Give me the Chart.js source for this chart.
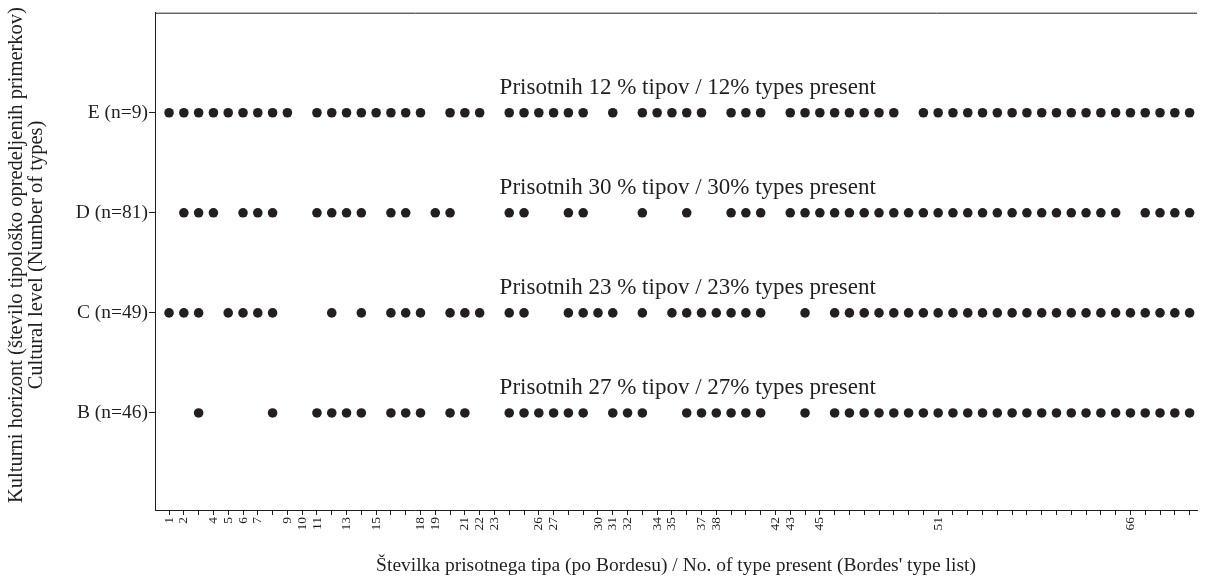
<!DOCTYPE html>
<html>
<head>
<meta charset="utf-8">
<script src="https://cdn.jsdelivr.net/npm/chart.js@4.4.1/dist/chart.umd.min.js"></script>
<style>
html, body { margin: 0; padding: 0; background: #fff; }
#wrap { width: 1208px; height: 583px; position: relative; }
</style>
</head>
<body>
<div id="wrap"><canvas id="chart"></canvas></div>
<script>
// Cultural levels, bottom to top
const levels = ['B (n=46)', 'C (n=49)', 'D (n=81)', 'E (n=9)'];

// Percentage of types present, per level
const presentNotes = [
    'Prisotnih 27 % tipov / 27% types present',
    'Prisotnih 23 % tipov / 23% types present',
    'Prisotnih 30 % tipov / 30% types present',
    'Prisotnih 12 % tipov / 12% types present'
];

// Positions of types present in each level
const typesB = [3, 8, 11, 12, 13, 14, 16, 17, 18, 20, 21, 24, 25, 26, 27, 28, 29, 31, 32, 33,
    36, 37, 38, 39, 40, 41, 44, 46, 47, 48, 49, 50, 51, 52, 53, 54, 55, 56, 57, 58, 59, 60,
    61, 62, 63, 64, 65, 66, 67, 68, 69, 70];
const typesC = [1, 2, 3, 5, 6, 7, 8, 12, 14, 16, 17, 18, 20, 21, 22, 24, 25, 28, 29, 30, 31, 33,
    35, 36, 37, 38, 39, 40, 41, 44, 46, 47, 48, 49, 50, 51, 52, 53, 54, 55, 56, 57, 58, 59, 60,
    61, 62, 63, 64, 65, 66, 67, 68, 69, 70];
const typesD = [2, 3, 4, 6, 7, 8, 11, 12, 13, 14, 16, 17, 19, 20, 24, 25, 28, 29, 33, 36, 39, 40, 41,
    43, 44, 45, 46, 47, 48, 49, 50, 51, 52, 53, 54, 55, 56, 57, 58, 59, 60, 61, 62, 63, 64, 65,
    67, 68, 69, 70];
const typesE = [1, 2, 3, 4, 5, 6, 7, 8, 9, 11, 12, 13, 14, 15, 16, 17, 18, 20, 21, 22, 24, 25, 26, 27,
    28, 29, 31, 33, 34, 35, 36, 37, 39, 40, 41, 43, 44, 45, 46, 47, 48, 49, 50, 52, 53, 54, 55, 56,
    57, 58, 59, 60, 61, 62, 63, 64, 65, 66, 67, 68, 69, 70];

// Labelled ticks on the x axis
const labelledPositions = [1, 2, 4, 5, 6, 7, 9, 10, 11, 13, 15, 18, 19, 21, 22, 23, 26, 27, 30, 31,
    32, 34, 35, 37, 38, 42, 43, 45, 53, 66];
const labelledTexts = ['1', '2', '4', '5', '6', '7', '9', '10', '11', '13', '15', '18', '19', '21', '22',
    '23', '26', '27', '30', '31', '32', '34', '35', '37', '38', '42', '43', '45', '51', '66'];
const typeCount = 70;

const yTitleLines = [
    'Kulturni horizont (število tipološko opredeljenih primerkov)',
    'Cultural level (Number of types)'
];
const xTitle = 'Številka prisotnega tipa (po Bordesu) / No. of type present (Bordes\' type list)';

const ink = '#231f20';
const serif = '"Liberation Serif", "DejaVu Serif", serif';

const levelTypes = [typesB, typesC, typesD, typesE];

// Frame top line, level notes and axis titles
const extrasPlugin = {
    id: 'extras',
    afterDraw(chart) {
        const ctx = chart.ctx;
        const area = chart.chartArea;
        const xs = chart.scales.x;
        const ys = chart.scales.y;
        ctx.save();
        ctx.strokeStyle = ink;
        ctx.lineWidth = 1;
        ctx.beginPath();
        ctx.moveTo(area.left, area.top + 0.5);
        ctx.lineTo(area.right, area.top + 0.5);
        ctx.stroke();

        ctx.fillStyle = ink;
        ctx.font = '23px ' + serif;
        ctx.textAlign = 'center';
        ctx.textBaseline = 'alphabetic';
        presentNotes.forEach((note, i) => {
            ctx.fillText(note, xs.getPixelForValue(36.07), ys.getPixelForValue(i + 1) - 19);
        });

        ctx.font = '19.5px ' + serif;
        ctx.textBaseline = 'middle';
        ctx.fillText(xTitle, (area.left + area.right) / 2, 566);

        ctx.translate(0, 255);
        ctx.rotate(-Math.PI / 2);
        ctx.font = '20.5px ' + serif;
        ctx.fillText(yTitleLines[0], 0, 17);
        ctx.fillText(yTitleLines[1], 0, 37);
        ctx.restore();
    }
};

new Chart(document.getElementById('chart'), {
    type: 'scatter',
    data: {
        datasets: levelTypes.map((types, i) => ({
            label: levels[i],
            data: types.map(t => ({ x: t, y: i + 1 })),
            backgroundColor: ink,
            borderWidth: 0,
            pointRadius: 4.8,
            pointHoverRadius: 4.8
        }))
    },
    options: {
        responsive: true,
        maintainAspectRatio: false,
        animation: false,
        layout: {
            padding: { top: 12, right: 11, left: 0, bottom: 0 }
        },
        plugins: {
            legend: { display: false },
            tooltip: { enabled: false }
        },
        scales: {
            x: {
                type: 'linear',
                min: 0.05,
                max: 70.5,
                afterBuildTicks: (scale) => {
                    const ticks = [];
                    for (let v = 1; v <= typeCount; v++) ticks.push({ value: v });
                    scale.ticks = ticks;
                },
                afterFit: (scale) => { scale.height = 73; },
                ticks: {
                    autoSkip: false,
                    minRotation: 90,
                    maxRotation: 90,
                    padding: 2,
                    color: ink,
                    font: { family: serif, size: 13.5 },
                    callback: (v) => {
                        const k = labelledPositions.indexOf(v);
                        return k >= 0 ? labelledTexts[k] : '';
                    }
                },
                grid: { drawOnChartArea: false, drawTicks: true, tickLength: 5, color: ink },
                border: { display: true, color: ink, width: 1 }
            },
            y: {
                type: 'linear',
                min: 0.03,
                max: 5,
                afterBuildTicks: (scale) => {
                    scale.ticks = levels.map((l, i) => ({ value: i + 1 }));
                },
                afterFit: (scale) => { scale.width = 155; },
                ticks: {
                    padding: 1,
                    color: ink,
                    font: { family: serif, size: 19.5 },
                    callback: (v) => levels[v - 1]
                },
                grid: { drawOnChartArea: false, drawTicks: true, tickLength: 6, color: ink },
                border: { display: true, color: ink, width: 1 }
            }
        }
    },
    plugins: [extrasPlugin]
});
</script>
</body>
</html>
